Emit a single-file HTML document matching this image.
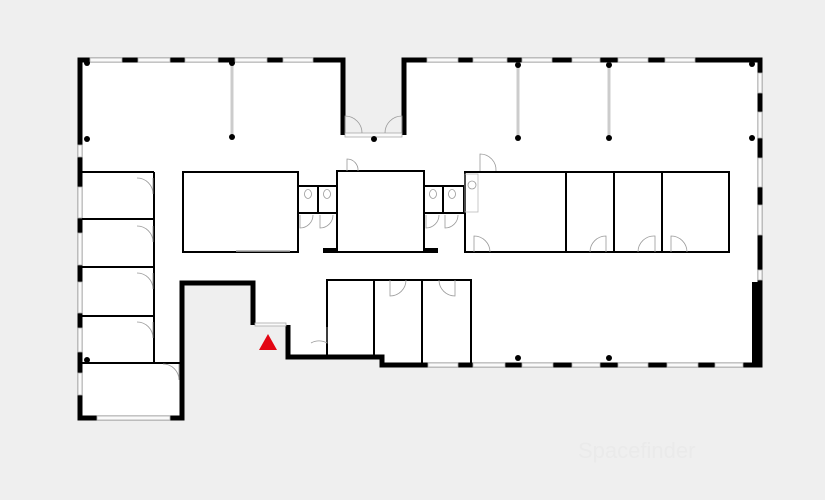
<!DOCTYPE html>
<html><head><meta charset="utf-8"><style>
html,body{margin:0;padding:0;background:#efefef;}
svg{display:block}
</style></head><body>
<svg width="825" height="500" viewBox="0 0 825 500" xmlns="http://www.w3.org/2000/svg">
<rect width="825" height="500" fill="#efefef"/>
<polygon points="80,60 343,60 343,135 404,135 404,60 760,60 760,365 382,365 382,357 288,357 288,325 253,325 253,283 182,283 182,418 80,418" fill="#fff"/>
<g fill="none" stroke="#000" stroke-width="5" stroke-linejoin="miter">
<polyline points="343,135 343,60 80,60 80,418 182,418 182,283 253,283 253,325"/>
<polyline points="288,325 288,357 382,357 382,365 760,365 760,60 404,60 404,135"/>
</g>
<rect x="752" y="282" width="10" height="85" fill="#000"/>
<g fill="#fafafa" stroke="#aaa" stroke-width="0.8">
<rect x="90" y="58" width="32" height="4"/><rect x="138" y="58" width="32" height="4"/><rect x="185" y="58" width="33" height="4"/><rect x="235" y="58" width="32" height="4"/><rect x="283" y="58" width="30" height="4"/>
<rect x="427" y="58" width="31" height="4"/><rect x="473" y="58" width="34" height="4"/><rect x="522" y="58" width="30" height="4"/><rect x="572" y="58" width="28" height="4"/><rect x="618" y="58" width="30" height="4"/><rect x="665" y="58" width="30" height="4"/>
<rect x="758" y="73" width="4" height="20"/><rect x="758" y="112" width="4" height="26"/><rect x="758" y="158" width="4" height="29"/><rect x="758" y="205" width="4" height="30"/><rect x="758" y="270" width="4" height="10"/>
<rect x="428" y="363" width="30" height="4"/><rect x="473" y="363" width="32" height="4"/><rect x="522" y="363" width="31" height="4"/><rect x="572" y="363" width="28" height="4"/><rect x="618" y="363" width="30" height="4"/><rect x="667" y="363" width="31" height="4"/><rect x="715" y="363" width="28" height="4"/>
<rect x="78" y="145" width="4" height="12"/><rect x="78" y="187" width="4" height="31"/><rect x="78" y="233" width="4" height="32"/><rect x="78" y="282" width="4" height="31"/><rect x="78" y="328" width="4" height="24"/><rect x="78" y="373" width="4" height="22"/>
<rect x="97" y="416" width="73" height="4"/>
<rect x="345" y="133" width="57" height="4"/>
<rect x="255" y="323" width="31" height="3"/>
</g>
<g stroke="#999" stroke-width="2.5"><line x1="232" y1="62" x2="232" y2="137"/><line x1="518" y1="62" x2="518" y2="137"/><line x1="609" y1="62" x2="609" y2="137"/></g>
<g stroke="#fff" stroke-width="1"><line x1="232" y1="62" x2="232" y2="137"/><line x1="518" y1="62" x2="518" y2="137"/><line x1="609" y1="62" x2="609" y2="137"/></g>
<g fill="#000">
<circle cx="87" cy="63" r="3"/><circle cx="87" cy="139" r="3"/><circle cx="232" cy="63" r="3"/><circle cx="232" cy="137" r="3"/><circle cx="374" cy="139" r="3"/>
<circle cx="518" cy="65" r="3"/><circle cx="518" cy="138" r="3"/><circle cx="609" cy="65" r="3"/><circle cx="609" cy="138" r="3"/><circle cx="752" cy="64" r="3"/><circle cx="752" cy="138" r="3"/>
<circle cx="87" cy="360" r="3"/><circle cx="518" cy="358" r="3"/><circle cx="609" cy="358" r="3"/>
</g>
<g fill="none" stroke="#000" stroke-width="2">
<line x1="82" y1="172" x2="154" y2="172"/><line x1="82" y1="219" x2="154" y2="219"/><line x1="82" y1="267" x2="154" y2="267"/><line x1="82" y1="316" x2="154" y2="316"/><line x1="82" y1="363" x2="182" y2="363"/><line x1="154" y1="172" x2="154" y2="363"/>
<rect x="183" y="172" width="115" height="80"/>
<rect x="337" y="171" width="87" height="81"/>
<polyline points="298,252 298,186 337,186"/><line x1="318" y1="186" x2="318" y2="213"/><line x1="298" y1="213" x2="337" y2="213"/>
<polyline points="424,186 464,186 464,213"/><line x1="443" y1="186" x2="443" y2="213"/><line x1="424" y1="213" x2="464" y2="213"/>
<rect x="465" y="172" width="264" height="80"/>
<line x1="566" y1="172" x2="566" y2="252"/><line x1="614" y1="172" x2="614" y2="252"/><line x1="662" y1="172" x2="662" y2="252"/>
<polyline points="327,357 327,280 471,280 471,365"/><line x1="374" y1="280" x2="374" y2="357"/><line x1="422" y1="280" x2="422" y2="365"/>
</g>
<rect x="323" y="248" width="14" height="5" fill="#000"/><rect x="424" y="248" width="14" height="5" fill="#000"/>
<g fill="none" stroke="#999" stroke-width="0.8">
<path d="M137,178 A16 16 0 0 1 153,194 M153,178 L153,194"/>
<path d="M137,226 A16 16 0 0 1 153,242 M153,226 L153,242"/>
<path d="M137,273 A16 16 0 0 1 153,289 M153,273 L153,289"/>
<path d="M137,322 A16 16 0 0 1 153,338 M153,322 L153,338"/>
<path d="M163,364 A16 16 0 0 1 179,380 M179,364 L179,380"/>
<path d="M345,133 L345,116 A17 17 0 0 1 362,133"/><path d="M402,133 L402,116 A17 17 0 0 0 385,133"/>
<path d="M347,171 L347,159 A11 11 0 0 1 358,171"/>
<path d="M480,171 L480,154 A16 16 0 0 1 496,171"/>
<path d="M474,252 L474,236 A16 16 0 0 1 490,252"/>
<path d="M606,252 L606,236 A16 16 0 0 0 590,252"/>
<path d="M655,252 L655,236 A16 16 0 0 0 638,252"/>
<path d="M671,252 L671,236 A16 16 0 0 1 687,252"/>
<path d="M300,215 L300,228 A13 13 0 0 0 313,215"/><path d="M320,215 L320,228 A13 13 0 0 0 333,215"/>
<path d="M426,215 L426,228 A13 13 0 0 0 439,215"/><path d="M445,215 L445,228 A13 13 0 0 0 458,215"/>
<path d="M327,327 L327,343 A16 16 0 0 0 311,343"/>
<path d="M390,280 L390,296 A16 16 0 0 0 406,280"/>
<path d="M455,280 L455,296 A16 16 0 0 1 439,280"/>
<line x1="236" y1="251" x2="290" y2="251" stroke="#aaa" stroke-width="1.5"/>
<rect x="465" y="174" width="13" height="38" stroke="#bbb"/><circle cx="472" cy="185" r="4"/>
<ellipse cx="308" cy="194" rx="3.5" ry="4.5"/><ellipse cx="327" cy="194" rx="3.5" ry="4.5"/><ellipse cx="433" cy="194" rx="3.5" ry="4.5"/><ellipse cx="452" cy="194" rx="3.5" ry="4.5"/>
</g>
<polygon points="268,334 259,350 277,350" fill="#e30613"/>
<text x="578" y="458" font-family="Liberation Sans, sans-serif" font-size="22" fill="#eaeaea">Spacefinder</text>
</svg>
</body></html>
